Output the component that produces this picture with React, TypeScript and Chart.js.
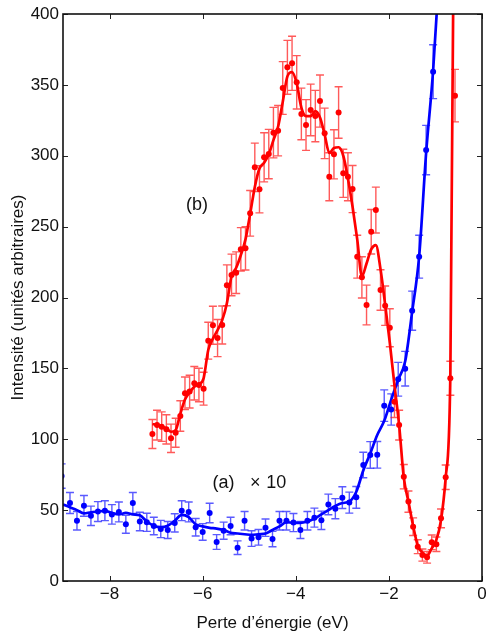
import React, { useEffect, useRef } from 'react';
import { Chart, registerables } from 'chart.js';

Chart.register(...registerables);

// ---------- data ----------
const xTickValues = [-8, -6, -4, -2, 0];
const yTickValues = [0, 50, 100, 150, 200, 250, 300, 350, 400];

// (a) spectrum x10 (blue)
const blueEnergy = [
  -9.03, -8.85, -8.7, -8.55, -8.4, -8.25, -8.1, -7.95, -7.8, -7.65, -7.5, -7.35, -7.2, -7.05,
  -6.9, -6.75, -6.6, -6.45, -6.3, -6.15, -6.0, -5.85, -5.7, -5.55, -5.4, -5.25, -5.1, -4.95,
  -4.8, -4.65, -4.5, -4.35, -4.2, -4.05, -3.9, -3.75, -3.6, -3.45, -3.3, -3.15, -3.0, -2.85,
  -2.7, -2.55, -2.4, -2.25, -2.1, -1.95, -1.8, -1.65, -1.5, -1.35, -1.2, -1.05, -0.9,
];
const blueValues = [
  74, 55, 42.5, 53, 46, 49, 49.6, 47, 48.7, 40, 55, 42, 41.4, 38.8, 36.7, 36, 41, 49.6, 48.7,
  37.9, 34.6, 48, 27.5, 35.5, 38.8, 23.5, 42.5, 29.9, 30.8, 37.6, 29.6, 42.5, 42.5, 41.2, 36,
  42.5, 44.7, 42.8, 54, 51, 58.8, 55.3, 59, 81.8, 88.9, 89, 123.7, 121, 142.3, 149.8, 190.7,
  228.8, 304, 359.3, 430,
];
const blueErrors = [
  8.6, 7.4, 6.5, 7.3, 6.8, 7, 7, 6.9, 7, 6.3, 7.4, 6.5, 6.4, 6.2, 6.1, 6, 6.4, 7, 7, 6.2, 5.9,
  6.9, 5.2, 6, 6.2, 4.8, 6.5, 5.5, 5.5, 6.1, 5.4, 6.5, 6.5, 6.4, 6, 6.5, 6.7, 6.5, 7.3, 7.1,
  7.7, 7.4, 7.7, 9, 9.4, 9.4, 11.1, 11, 11.9, 12.2, 13.8, 15.1, 17.4, 19, 20.7,
];
const blueFitEnergy = [
  -9.0, -8.85, -8.7, -8.55, -8.4, -8.25, -8.1, -7.95, -7.8, -7.65, -7.5, -7.35, -7.2, -7.05,
  -6.9, -6.75, -6.6, -6.45, -6.3, -6.15, -6.0, -5.85, -5.7, -5.55, -5.4, -5.25, -5.1, -4.95,
  -4.8, -4.65, -4.5, -4.35, -4.2, -4.05, -3.9, -3.75, -3.6, -3.45, -3.3, -3.15, -3.0, -2.85,
  -2.7, -2.55, -2.4, -2.25, -2.1, -1.95, -1.8, -1.65, -1.5, -1.35, -1.2, -1.05, -0.9,
];
const blueFit = [
  54, 52, 50, 47.7, 48.5, 49, 49.5, 48, 47, 48, 47, 46.3, 42, 39, 38, 39, 42.5, 46.6, 45, 40,
  38.5, 37.5, 37, 36, 34, 33.5, 33, 32.5, 33, 33.5, 36, 38.5, 41.5, 41, 41, 42, 44, 47, 50, 53,
  55, 56, 63, 78, 90, 103, 113, 128, 142, 155, 190, 229, 302, 360, 440,
];

// (b) spectrum (red)
const redEnergy = [
  -7.08, -6.98, -6.88, -6.78, -6.68, -6.58, -6.48, -6.38, -6.28, -6.18, -6.08, -5.98, -5.88,
  -5.78, -5.68, -5.58, -5.48, -5.38, -5.28, -5.18, -5.08, -4.98, -4.88, -4.78, -4.68, -4.58,
  -4.48, -4.38, -4.28, -4.18, -4.08, -3.98, -3.88, -3.78, -3.68, -3.58, -3.48, -3.38, -3.28,
  -3.18, -3.08, -2.98, -2.88, -2.78, -2.68, -2.58, -2.48, -2.38, -2.28, -2.18, -2.08, -1.98,
  -1.88, -1.78, -1.68, -1.58, -1.48, -1.38, -1.28, -1.18, -1.08, -0.98, -0.88, -0.78, -0.68,
  -0.58,
];
const redValues = [
  103.7, 110, 108.9, 107, 100.7, 104.6, 116.4, 132.4, 133.6, 139.5, 138.3, 135.7, 169.5, 180.4,
  171.4, 180.6, 208.6, 215.9, 217.5, 234, 234.7, 259.4, 291.8, 276.3, 298.9, 301.2, 316.3,
  317.7, 347.8, 362.4, 365.2, 351.8, 329.5, 321.7, 332.3, 328, 338.6, 315.8, 285.2, 301, 330.5,
  287.6, 285.2, 276.5, 228.8, 214.2, 194.7, 246.4, 261.7, 205.3, 194.2, 178.7, 126.5, 110, 73.6,
  56, 38.3, 24.2, 18.3, 16.7, 27.3, 25.9, 44.2, 73.2, 143, 342.4,
];
const redErrors = [
  10.2, 10.5, 10.4, 10.3, 10, 10.2, 10.8, 11.5, 11.6, 11.8, 11.8, 11.6, 13, 13.4, 13.1, 13.4,
  14.4, 14.7, 14.7, 15.3, 15.3, 16.1, 17.1, 16.6, 17.3, 17.4, 17.8, 17.8, 18.6, 19, 19.1, 18.8,
  18.2, 17.9, 18.2, 18.1, 18.4, 17.8, 16.9, 17.3, 18.2, 17, 16.9, 16.6, 15.1, 14.6, 14, 15.7,
  16.2, 14.3, 13.9, 13.4, 11.2, 10.5, 8.6, 7.5, 6.2, 4.9, 4.3, 4.1, 5.2, 5.1, 6.6, 8.6, 12, 18.5,
];
const redFit = [
  110.8, 110, 109, 107.5, 105.3, 106.5, 118, 128, 133, 137, 139, 143, 163, 171, 177, 184, 196,
  215, 221, 230, 241, 259, 278, 291, 295, 301, 311, 320.5, 338, 356, 359, 351, 334, 328, 328,
  331.5, 327, 315, 302, 305.5, 306, 300, 284, 264, 241, 215, 224, 234, 237, 220, 195, 168, 138,
  110, 73, 56, 39, 25, 20, 18, 23, 29, 43, 73, 145, 600,
];

// text labels placed in data coordinates
const annotations = [
  { text: '(b)', x: -6.12, y: 265 },
  { text: '(a)', x: -5.55, y: 69 },
  { text: '\u00d7', x: -4.87, y: 69 },
  { text: '10', x: -4.42, y: 69 },
];

const FONT = '"Liberation Sans", Arial, Helvetica, sans-serif';

const toXY = (xs: number[], ys: number[]) => xs.map((x, i) => ({ x, y: ys[i] }));
const minus = (v: number) => (v < 0 ? '\u2212' + Math.abs(v) : String(v));

export default function App() {
  const ref = useRef<HTMLCanvasElement | null>(null);

  useEffect(() => {
    document.body.style.margin = '0';
    const canvas = ref.current;
    if (!canvas) return;

    const overlay = {
      id: 'overlay',
      beforeDatasetsDraw(chart: any) {
        const { ctx, chartArea: a, scales } = chart;
        const sx = scales.x;
        const sy = scales.y;
        ctx.save();
        ctx.beginPath();
        ctx.rect(a.left, a.top, a.right - a.left, a.bottom - a.top);
        ctx.clip();
        const drawErr = (xs: number[], ys: number[], es: number[], color: string) => {
          ctx.strokeStyle = color;
          ctx.lineWidth = 1.4;
          for (let i = 0; i < xs.length; i++) {
            const px = sx.getPixelForValue(xs[i]);
            const p1 = sy.getPixelForValue(ys[i] - es[i]);
            const p2 = sy.getPixelForValue(ys[i] + es[i]);
            ctx.beginPath();
            ctx.moveTo(px, p1);
            ctx.lineTo(px, p2);
            ctx.moveTo(px - 4, p1);
            ctx.lineTo(px + 4, p1);
            ctx.moveTo(px - 4, p2);
            ctx.lineTo(px + 4, p2);
            ctx.stroke();
          }
        };
        drawErr(blueEnergy, blueValues, blueErrors, 'rgba(20,20,255,0.7)');
        drawErr(redEnergy, redValues, redErrors, 'rgba(255,20,20,0.7)');
        ctx.restore();
      },
      afterDraw(chart: any) {
        const { ctx, chartArea: a, scales } = chart;
        const sx = scales.x;
        const sy = scales.y;
        ctx.save();
        // inward ticks
        ctx.strokeStyle = '#222';
        ctx.lineWidth = 1;
        const tl = 5;
        ctx.beginPath();
        xTickValues.forEach((v) => {
          const px = Math.round(sx.getPixelForValue(v)) + 0.5;
          ctx.moveTo(px, a.bottom);
          ctx.lineTo(px, a.bottom - tl);
          ctx.moveTo(px, a.top);
          ctx.lineTo(px, a.top + tl);
        });
        yTickValues.forEach((v) => {
          const py = Math.round(sy.getPixelForValue(v)) + 0.5;
          ctx.moveTo(a.left, py);
          ctx.lineTo(a.left + tl, py);
          ctx.moveTo(a.right, py);
          ctx.lineTo(a.right - tl, py);
        });
        ctx.stroke();
        // frame
        ctx.lineWidth = 1.6;
        ctx.strokeStyle = '#111';
        ctx.strokeRect(a.left, a.top, a.right - a.left, a.bottom - a.top);
        // texts
        ctx.fillStyle = '#111';
        ctx.font = '18px ' + FONT;
        ctx.textAlign = 'center';
        ctx.textBaseline = 'middle';
        annotations.forEach((t) => {
          ctx.fillText(t.text, sx.getPixelForValue(t.x), sy.getPixelForValue(t.y));
        });
        ctx.restore();
      },
    };

    const chart = new Chart(canvas, {
      type: 'scatter',
      data: {
        datasets: [
          {
            label: 'b points',
            data: toXY(redEnergy, redValues),
            showLine: false,
            pointRadius: 3,
            pointBorderWidth: 0,
            pointBackgroundColor: '#ff0000',
            pointBorderColor: '#ff0000',
          },
          {
            label: 'b fit',
            data: toXY(redEnergy, redFit),
            showLine: true,
            borderColor: '#ff0000',
            borderWidth: 2.7,
            pointRadius: 0,
            cubicInterpolationMode: 'monotone',
          },
          {
            label: 'a points',
            data: toXY(blueEnergy, blueValues),
            showLine: false,
            pointRadius: 3,
            pointBorderWidth: 0,
            pointBackgroundColor: '#0000ff',
            pointBorderColor: '#0000ff',
          },
          {
            label: 'a fit',
            data: toXY(blueFitEnergy, blueFit),
            showLine: true,
            borderColor: '#0000ff',
            borderWidth: 2.7,
            pointRadius: 0,
            cubicInterpolationMode: 'monotone',
          },
        ],
      },
      options: {
        animation: false,
        responsive: false,
        maintainAspectRatio: false,
        layout: { padding: { top: 14, left: 0, right: 1, bottom: 0 } },
        plugins: { legend: { display: false }, tooltip: { enabled: false } },
        scales: {
          x: {
            type: 'linear',
            min: -9,
            max: 0,
            grid: { display: false, drawTicks: false },
            border: { display: false },
            afterBuildTicks: (s: any) => {
              s.ticks = xTickValues.map((v) => ({ value: v }));
            },
            afterFit: (s: any) => {
              s.height = 54;
              s.paddingLeft = 0;
              s.paddingRight = 0;
            },
            ticks: {
              autoSkip: false,
              maxRotation: 0,
              padding: 3,
              color: '#111',
              font: { size: 17, family: FONT },
              callback: (v: any) => minus(Number(v)),
            },
            title: {
              display: true,
              text: 'Perte d\u2019énergie (eV)',
              color: '#111',
              font: { size: 17, family: FONT },
              padding: { top: 0, bottom: 1 },
            },
          },
          y: {
            type: 'linear',
            min: 0,
            max: 400,
            grid: { display: false, drawTicks: false },
            border: { display: false },
            afterBuildTicks: (s: any) => {
              s.ticks = yTickValues.map((v) => ({ value: v }));
            },
            afterFit: (s: any) => {
              s.width = 63;
              s.paddingTop = 0;
              s.paddingBottom = 0;
            },
            ticks: {
              autoSkip: false,
              padding: 4,
              color: '#111',
              font: { size: 17, family: FONT },
              callback: (v: any) => String(v),
            },
            title: {
              display: true,
              text: 'Intensité (unités arbitraires)',
              color: '#111',
              font: { size: 17, family: FONT },
              padding: { top: 7.8, bottom: 0 },
            },
          },
        },
      },
      plugins: [overlay],
    } as any);

    return () => chart.destroy();
  }, []);

  return (
    <div style={{ width: 486, height: 635 }}>
      <canvas ref={ref} width={486} height={635} style={{ display: 'block' }} />
    </div>
  );
}
